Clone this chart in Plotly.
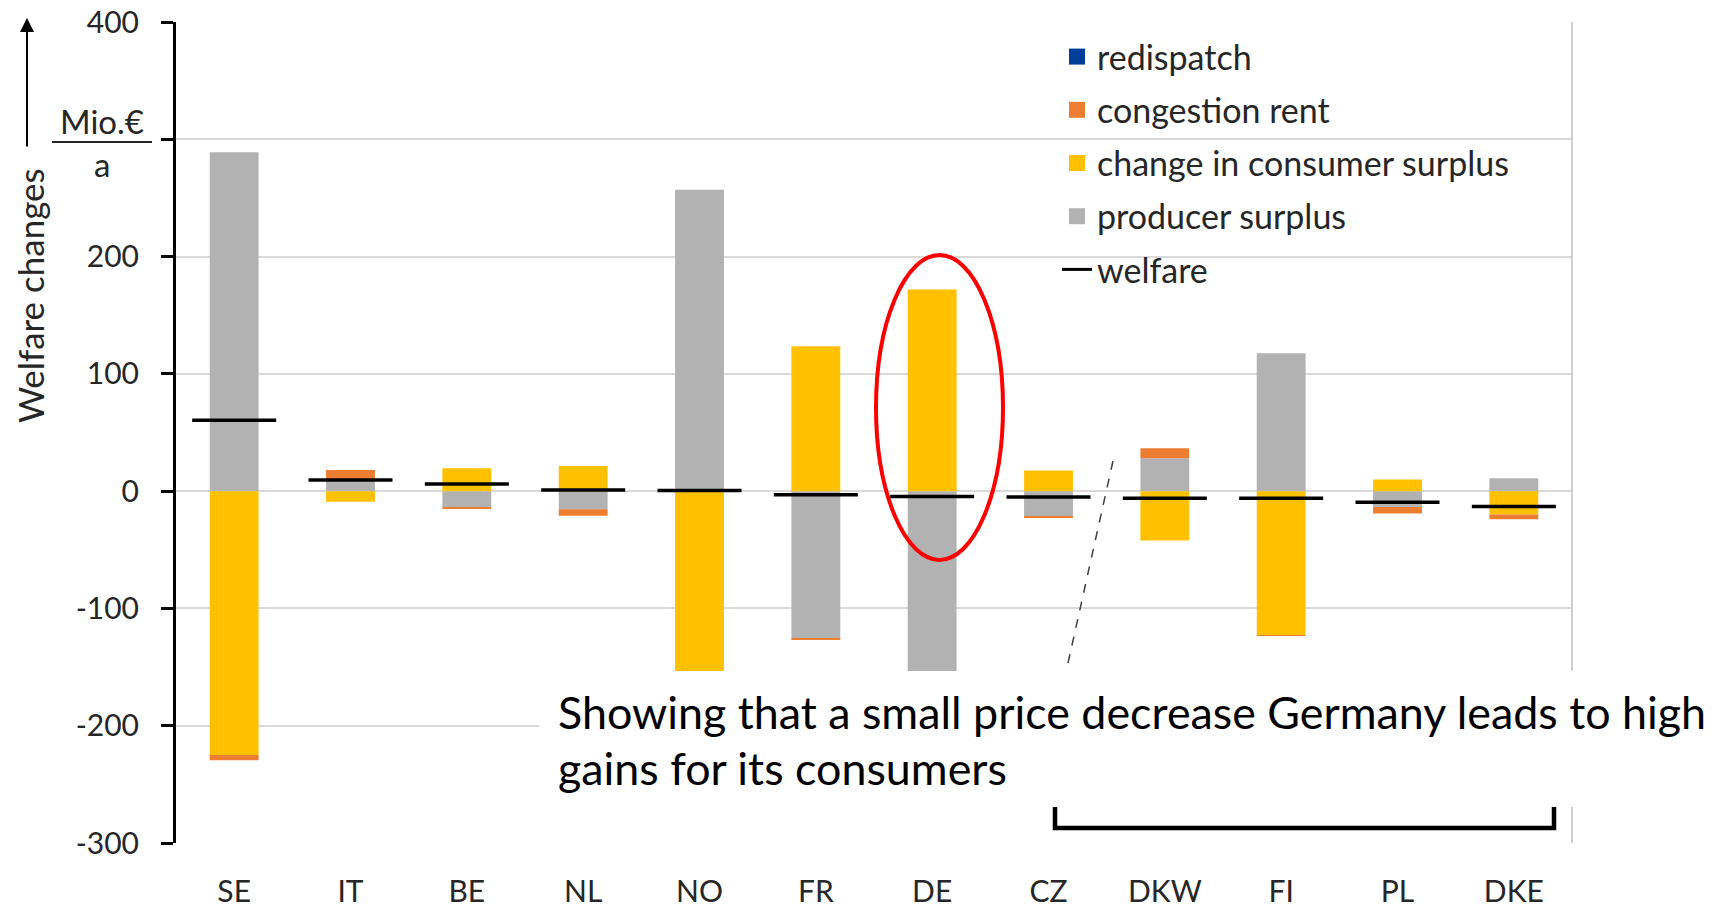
import plotly.graph_objects as go

# ---------------- data ----------------
countries = ["SE", "IT", "BE", "NL", "NO", "FR", "DE", "CZ", "DKW", "FI", "PL", "DKE"]
producer_surplus = [289, 9, -14, -15.5, 257, -126, -176, -22, 28, 117.5, -13.5, 11]
consumer_surplus = [-225, -9, 19.5, 21.5, -256, 123.5, 172, 17.5, -42, -123, 10, -20]
congestion_rent = [-4.5, 9, -0.5, -5.5, 0, -1, 0, -0.5, 8.5, -0.5, -5.5, -4]
redispatch = [0, 0, 0, 0, 0, 0, 0, 0, 0, 0, 0, 0]
welfare = [60.5, 9.5, 6, 1, 0.5, -3, -4.5, -5, -6, -6, -9.5, -13]
y_ticks = [-300, -200, -100, 0, 100, 200, 300, 400]
y_tick_labels = ["-300", "-200", "-100", "0", "100", "200", "", "400"]

FONT = "Lato"
TXT = "#262626"
C_PROD, C_CONS, C_CONG, C_RED = "#B2B2B2", "#FFC000", "#ED7D31", "#003F98"

# screen geometry (pixels); the page body adds an 8px offset
OFF = 8
W, H = 1720 - OFF, 907 - OFF
L, R, T, B = 176, 1572, 22, 843


def px(x):
    return (x - L) / (R - L)


def py(y):
    return (B - y) / (B - T)


fig = go.Figure()

bar_series = [
    ("producer surplus", producer_surplus, C_PROD),
    ("change in consumer surplus", consumer_surplus, C_CONS),
    ("congestion rent", congestion_rent, C_CONG),
    ("redispatch", redispatch, C_RED),
]
for name, vals, col in bar_series:
    fig.add_trace(go.Bar(x=countries, y=vals, name=name,
                         marker=dict(color=col, line=dict(width=0)),
                         showlegend=False, legendgroup=name))

fig.add_trace(go.Scatter(x=countries, y=welfare, mode="markers", name="welfare",
                         marker=dict(symbol="line-ew", size=60,
                                     line=dict(color="black", width=3.5)),
                         showlegend=False, legendgroup="welfare"))

# legend entries (legend-only swatches)
ranks = {"redispatch": 1, "congestion rent": 2, "change in consumer surplus": 3,
         "producer surplus": 4}
for name, vals, col in bar_series:
    fig.add_trace(go.Scatter(x=[None], y=[None], mode="markers", name=name,
                             marker=dict(symbol="square", size=16, color=col),
                             legendgroup=name, legendrank=ranks[name]))
fig.add_trace(go.Scatter(x=[None], y=[None], mode="lines", name="welfare",
                         line=dict(color="black", width=3),
                         legendgroup="welfare", legendrank=5))

shapes = [
    # white legend background covering gridlines
    dict(type="rect", xref="paper", yref="paper", x0=px(1025), x1=px(1555),
         y0=py(290), y1=py(30), fillcolor="white", line=dict(width=0), layer="between"),
    # right border of the plot area
    dict(type="line", xref="paper", yref="paper", x0=1, x1=1, y0=0, y1=1,
         line=dict(color="#BFBFBF", width=1.5)),
    # red ellipse around DE
    dict(type="circle", xref="paper", yref="paper", x0=px(876), x1=px(1003),
         y0=py(560), y1=py(255), line=dict(color="#FF0000", width=4)),
    # dashed pointer
    dict(type="line", xref="paper", yref="paper", x0=px(1113), y0=py(461),
         x1=px(1066), y1=py(672), line=dict(color="#404040", width=1.5, dash="dash")),
    # white text box
    dict(type="rect", xref="paper", yref="paper", x0=px(539), x1=px(1730),
         y0=py(807), y1=py(671), fillcolor="white", line=dict(width=0), layer="above"),
    # bracket under DKW..DKE
    dict(type="path", xref="paper", yref="paper",
         path=f"M {px(1055)},{py(807)} L {px(1055)},{py(828)} L {px(1554)},{py(828)} L {px(1554)},{py(807)}",
         line=dict(color="black", width=4.5)),
    # fraction bar of the unit
    dict(type="line", xref="paper", yref="paper", x0=px(52), x1=px(152),
         y0=py(142), y1=py(142), line=dict(color=TXT, width=2)),
]

annotations = [
    dict(text="Showing that a small price decrease Germany leads to high",
         xref="paper", yref="paper", x=px(556), y=py(712), xanchor="left", yanchor="middle",
         showarrow=False, font=dict(family=FONT, size=44.8, color="black")),
    dict(text="gains for its consumers",
         xref="paper", yref="paper", x=px(556), y=py(768), xanchor="left", yanchor="middle",
         showarrow=False, font=dict(family=FONT, size=44.8, color="black")),
    dict(text="Welfare changes", textangle=-90,
         xref="paper", yref="paper", x=px(30), y=py(296), xanchor="center", yanchor="middle",
         showarrow=False, font=dict(family=FONT, size=35, color=TXT)),
    dict(text="Mio.€", xref="paper", yref="paper", x=px(102), y=py(121),
         xanchor="center", yanchor="middle", showarrow=False,
         font=dict(family=FONT, size=33, color=TXT)),
    dict(text="a", xref="paper", yref="paper", x=px(102), y=py(164),
         xanchor="center", yanchor="middle", showarrow=False,
         font=dict(family=FONT, size=33, color=TXT)),
    dict(text="", xref="paper", yref="paper", x=px(27), y=py(18),
         showarrow=True, ax=0, ay=130, axref="pixel", ayref="pixel",
         arrowhead=2, arrowsize=1.4, arrowwidth=2, arrowcolor="black"),
]

fig.update_layout(
    width=W, height=H,
    margin=dict(l=L - OFF, r=W - (R - OFF), t=T - OFF, b=H - (B - OFF), pad=0,
                autoexpand=False),
    paper_bgcolor="white", plot_bgcolor="white",
    barmode="relative", bargap=0.58,
    font=dict(family=FONT, color=TXT),
    showlegend=True,
    legend=dict(x=px(1057), y=py(28), xanchor="left", yanchor="top",
                bgcolor="rgba(0,0,0,0)", traceorder="grouped", tracegroupgap=6,
                itemsizing="trace",
                font=dict(family=FONT, size=34, color=TXT), itemclick=False),
    shapes=shapes, annotations=annotations,
)

fig.update_xaxes(range=[-0.5, len(countries) - 0.5], automargin=False,
                 showline=False, showgrid=False, zeroline=False, ticks="",
                 tickfont=dict(family=FONT, size=30, color=TXT),
                 ticklabelstandoff=28, ticklabeloverflow="allow")
fig.update_yaxes(range=[-300, 400], tickvals=y_ticks, ticktext=y_tick_labels,
                 automargin=False, showgrid=True,
                 gridcolor="#D9D9D9", gridwidth=1.5, zeroline=False,
                 showline=True, linecolor="black", linewidth=3,
                 ticks="outside", ticklen=12, tickwidth=3, tickcolor="black",
                 tickfont=dict(family=FONT, size=30, color=TXT),
                 ticklabelstandoff=16, ticklabeloverflow="allow")

fig.write_html("out.html")
